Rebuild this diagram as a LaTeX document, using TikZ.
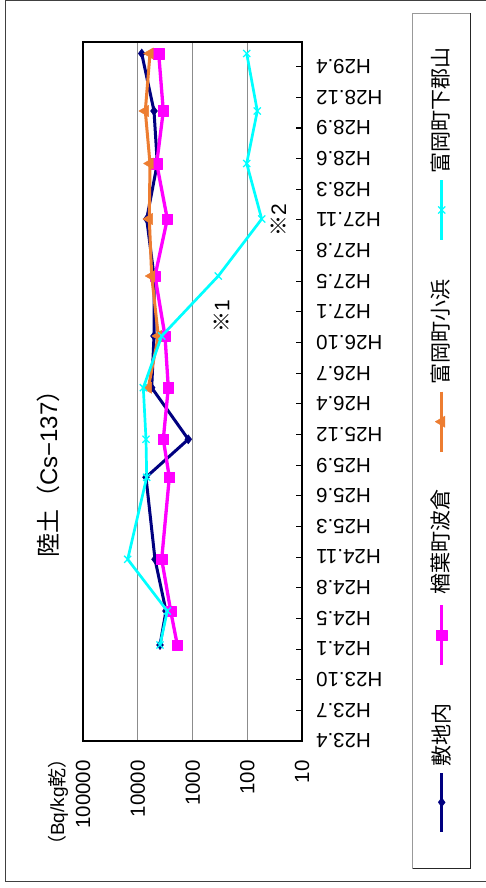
\documentclass[tikz,border=0pt]{standalone}
\usepackage{fontspec}
\setmainfont{Liberation Sans}
\newfontfamily\jp{Noto Sans CJK JP}
\usepackage{tkz-euclide}
\usetikzlibrary{plotmarks}
\definecolor{skcol}{HTML}{000080}
\definecolor{nrcol}{HTML}{FF00FF}
\definecolor{khcol}{HTML}{ED7D31}
\definecolor{gycol}{HTML}{00FFFF}

\begin{document}
\begin{tikzpicture}[x=1pt,y=-1pt,
  dlab/.style={rotate=180,anchor=east,inner sep=0pt,font=\fontsize{20.5}{20}\selectfont},
  vlab/.style={rotate=90,anchor=east,inner sep=0pt,font=\fontsize{20.5}{20}\selectfont},
  llab/.style={rotate=90,anchor=west,inner sep=0pt,font=\jp\fontsize{21}{21}\selectfont},
  note/.style={rotate=90,inner sep=0pt,font=\fontsize{21}{21}\selectfont},
  skline/.style={color=skcol,line width=3pt,line join=round},
  nrline/.style={color=nrcol,line width=3.3pt,line join=round},
  khline/.style={color=khcol,line width=3pt,line join=round},
  gyline/.style={color=gycol,line width=2.7pt,line join=round},
  skmark/.style={mark=diamond*,mark size=4.6pt,mark options={line width=0.4pt}},
  nrmark/.style={mark=square*,mark size=5.3pt,mark options={line width=0.4pt}},
  khmark/.style={mark=triangle*,mark size=6.5pt,mark options={rotate=90,line width=0.4pt}},
  gymark/.style={mark=x,mark size=5pt,mark options={line width=1.3pt}}]
\useasboundingbox (0,0) rectangle (486,888);
\fill[white] (0,0) rectangle (486,888);
% frame and legend box
\draw[black!75,line width=1pt] (486,0.7)--(5.5,0.7)--(5.5,881.5)--(486,881.5);
\draw[black!40,line width=0.8pt] (412.7,13.3) rectangle (470.7,868.7);
\draw[black!85,line width=0.8pt] (470.7,13.3)--(470.7,868.7)--(412.7,868.7);
% plot area
\tkzDefPoints{83/42/PA,302/42/PB,302/741/PC,83/741/PD}
\tkzDefPoints{137.7/42/Ga,137.7/741/Gb,192.7/42/Gc,192.7/741/Gd,247.3/42/Ge,247.3/741/Gf}
\draw[black!45,line width=1.2pt](Ga)--(Gb)(Gc)--(Gd)(Ge)--(Gf);
\draw[line width=1pt](302,710.35)--+(-6,0)(302,679.7)--+(-6,0)(302,649.05)--+(-6,0)
  (302,618.4)--+(-6,0)(302,587.75)--+(-6,0)(302,557.1)--+(-6,0)(302,526.45)--+(-6,0)
  (302,495.8)--+(-6,0)(302,465.15)--+(-6,0)(302,434.5)--+(-6,0)(302,403.85)--+(-6,0)
  (302,373.2)--+(-6,0)(302,342.55)--+(-6,0)(302,311.9)--+(-6,0)(302,281.25)--+(-6,0)
  (302,250.6)--+(-6,0)(302,219.95)--+(-6,0)(302,189.3)--+(-6,0)(302,158.65)--+(-6,0)
  (302,128)--+(-6,0)(302,97.35)--+(-6,0)(302,66.7)--+(-6,0);
\draw[line width=2.9pt,line join=miter](PA)--(PB)--(PC)--(PD)--cycle;
% data
\tkzDefPoints{160/645/Sk1,166/611/Sk2,155/559.3/Sk3,146/477.3/Sk4,188.3/439.3/Sk5,151.7/387.7/Sk6,
  154/336/Sk7,154/276/Sk8,146.7/219/Sk9,157.3/163.5/Sk10,154/111/Sk11,141.7/53.5/Sk12}
\tkzDefPoints{177.3/645/Nr1,170.7/611/Nr2,161.7/559.3/Nr3,169.3/477.3/Nr4,163.3/439.3/Nr5,168.3/387.7/Nr6,
  165/336/Nr7,155/276/Nr8,167.3/219/Nr9,156.7/163.5/Nr10,163.3/111/Nr11,158.7/53.5/Nr12}
\tkzDefPoints{148.3/387.7/Kh6,158.3/336/Kh7,151.7/276/Kh8,149.3/219/Kh9,150/163.5/Kh10,145.3/111/Kh11,150/53.5/Kh12}
\tkzDefPoints{160/645/Gy1,167.3/611/Gy2,127.7/559.3/Gy3,146.7/477.3/Gy4,146/439.3/Gy5,143.3/387.7/Gy6,
  161.7/336/Gy7,218.3/276/Gy8,261.7/219/Gy9,246.7/163.5/Gy10,257.3/111/Gy11,246.7/53.5/Gy12}
\draw[skline,skmark] plot coordinates {(Sk1)(Sk2)(Sk3)(Sk4)(Sk5)(Sk6)(Sk7)(Sk8)(Sk9)(Sk10)(Sk11)(Sk12)};
\draw[nrline,nrmark] plot coordinates {(Nr1)(Nr2)(Nr3)(Nr4)(Nr5)(Nr6)(Nr7)(Nr8)(Nr9)(Nr10)(Nr11)(Nr12)};
\draw[khline,khmark] plot coordinates {(Kh6)(Kh7)(Kh8)(Kh9)(Kh10)(Kh11)(Kh12)};
\draw[gyline,gymark] plot coordinates {(Gy1)(Gy2)(Gy3)(Gy4)(Gy5)(Gy6)(Gy7)(Gy8)(Gy9)(Gy10)(Gy11)(Gy12)};
\node[note] (n1) at (221.7,315.8) {{\jp ※}1};
\node[note] (n2) at (278.3,220) {{\jp ※}2};
% axis labels
\node[rotate=90,inner sep=0pt,font=\fontsize{24}{24}\selectfont] (title) at (48,468) {{\jp 陸土（}Cs−137{\jp ）}};
\node[vlab,font=\fontsize{19}{19}\selectfont] (unit) at (58,749) {{\jp （}Bq/kg{\jp 乾）}};
\node[vlab] (v5) at (83,760) {100000};
\node[vlab] (v4) at (137.7,760) {10000};
\node[vlab] (v3) at (192.7,760) {1000};
\node[vlab] (v2) at (247.3,760) {100};
\node[vlab] (v1) at (302,760) {10};
\node[dlab] (d0) at (316,741) {H23.4};
\node[dlab] (d1) at (316,710.35) {H23.7};
\node[dlab] (d2) at (316,679.7) {H23.10};
\node[dlab] (d3) at (316,649.05) {H24.1};
\node[dlab] (d4) at (316,618.4) {H24.5};
\node[dlab] (d5) at (316,587.75) {H24.8};
\node[dlab] (d6) at (316,557.1) {H24.11};
\node[dlab] (d7) at (316,526.45) {H25.3};
\node[dlab] (d8) at (316,495.8) {H25.6};
\node[dlab] (d9) at (316,465.15) {H25.9};
\node[dlab] (d10) at (316,434.5) {H25.12};
\node[dlab] (d11) at (316,403.85) {H26.4};
\node[dlab] (d12) at (316,373.2) {H26.7};
\node[dlab] (d13) at (316,342.55) {H26.10};
\node[dlab] (d14) at (316,311.9) {H27.1};
\node[dlab] (d15) at (316,281.25) {H27.5};
\node[dlab] (d16) at (316,250.6) {H27.8};
\node[dlab] (d17) at (316,219.95) {H27.11};
\node[dlab] (d18) at (316,189.3) {H28.3};
\node[dlab] (d19) at (316,158.65) {H28.6};
\node[dlab] (d20) at (316,128) {H28.9};
\node[dlab] (d21) at (316,97.35) {H28.12};
\node[dlab] (d22) at (316,66.7) {H29.4};
% legend
\tkzDefPoints{441.7/773/Sa,441.7/832/Sb,441.7/802.3/Sm,441.7/605/Na,441.7/665/Nb,441.7/635/Nm,
  441.7/391.7/Ka,441.7/451.7/Kb,441.7/421.7/Km,441.7/180/Ya,441.7/240/Yb,441.7/210/Ym}
\draw[skline](Sa)--(Sb); \draw[skline,skmark] plot coordinates {(Sm)};
\draw[nrline](Na)--(Nb); \draw[nrline,nrmark] plot coordinates {(Nm)};
\draw[khline](Ka)--(Kb); \draw[khline,khmark] plot coordinates {(Km)};
\draw[gyline](Ya)--(Yb); \draw[gyline,gymark] plot coordinates {(Ym)};
\node[llab] (ls) at (441,767) {敷地内};
\node[llab] (ln) at (441,595) {楢葉町波倉};
\node[llab] (lk) at (441,385) {富岡町小浜};
\node[llab] (ly) at (441,174) {富岡町下郡山};
\end{tikzpicture}
\end{document}
